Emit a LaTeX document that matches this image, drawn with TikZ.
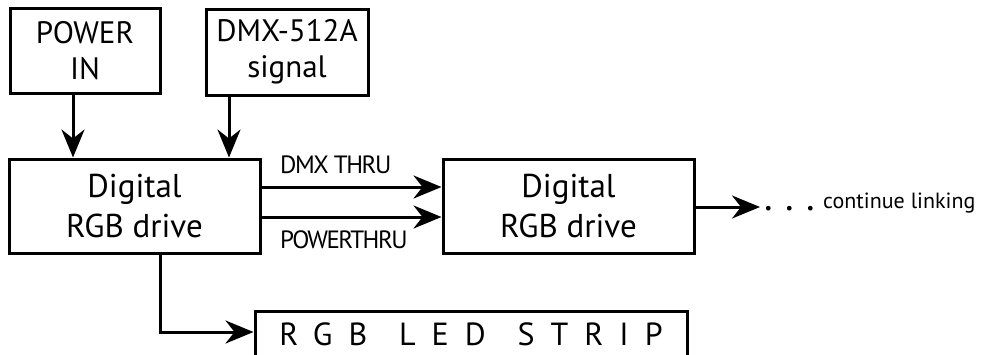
\documentclass[tikz,border=0pt]{standalone}
\usepackage{fontspec}
\setmainfont{PT Sans}
\newfontfamily\ledfont[LetterSpace=50,WordSpace=1.3]{PT Sans}
\usetikzlibrary{arrows.meta}
\begin{document}
\begin{tikzpicture}[x=1pt,y=-1pt,
  box/.style={draw, line width=3pt, rectangle, inner sep=0pt, align=center},
  arr/.style={line width=3pt, -{Stealth[length=28pt,width=23pt,inset=9pt]}},
  lbl/.style={inner sep=0pt, anchor=base west}]
\clip (0,0) rectangle (984,354);
% boxes
\node[box, minimum width=150pt, minimum height=85pt, font=\fontsize{31}{36}\selectfont] (power) at (85,50.5) {POWER\\IN};
\node[box, minimum width=162pt, minimum height=86pt, font=\fontsize{31}{36}\selectfont] (dmx) at (287,52) {DMX-512A\\signal};
\node[box, minimum width=251pt, minimum height=94pt, font=\fontsize{33}{40}\selectfont] (drv1) at (134.5,206) {Digital\\RGB drive};
\node[box, minimum width=251pt, minimum height=94pt, font=\fontsize{33}{40}\selectfont] (drv2) at (568.5,206) {Digital\\RGB drive};
\node[box, minimum width=432pt, minimum height=47pt, font=\ledfont\fontsize{32}{36}\selectfont] (led) at (471,334.5) {RGB LED STRIP};
% helper coordinates
\coordinate (pa) at (73,0);
\coordinate (da) at (229,0);
\coordinate (t1) at (0,187);
\coordinate (t2) at (0,217);
\coordinate (dn) at (160,0);
\coordinate (lw) at (0,332);
\coordinate (ce) at (760,207);
% connectors
\draw[arr] (power.south -| pa) -- (drv1.north -| pa);
\draw[arr] (dmx.south -| da) -- (drv1.north -| da);
\draw[arr] (drv1.east |- t1) -- (drv2.west |- t1);
\draw[arr] (drv1.east |- t2) -- (drv2.west |- t2);
\draw[arr] (drv2.east |- ce) -- (ce);
\draw[arr] (drv1.south -| dn) |- (led.west |- lw);
% labels
\node[lbl, font=\fontsize{25}{25}\selectfont\addfontfeature{LetterSpace=-6}] (l1) at (280,173) {DMX THRU};
\node[lbl, font=\fontsize{25}{25}\selectfont\addfontfeature{LetterSpace=-6}] (l2) at (280,248) {POWERTHRU};
\node[lbl, font=\fontsize{40}{40}\selectfont] (dots) at (764,210) {.\hspace{12.6pt}.\hspace{12.6pt}.};
\node[lbl, font=\fontsize{22}{22}\selectfont] (cl) at (823,208) {continue linking};
\end{tikzpicture}
\end{document}
